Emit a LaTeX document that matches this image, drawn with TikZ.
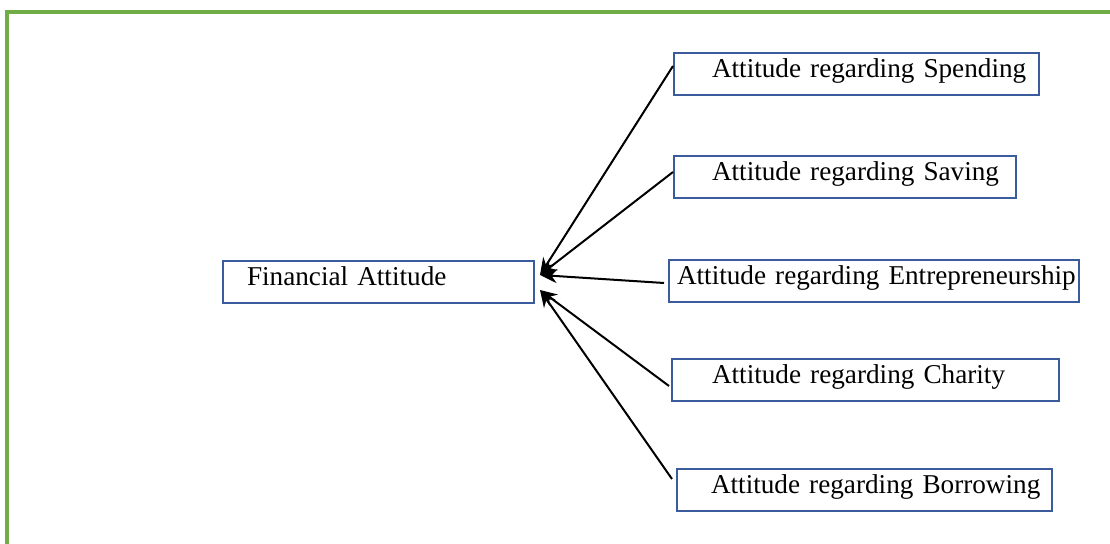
\documentclass[tikz,border=0pt]{standalone}
\usepackage{fontspec}
\setmainfont{Liberation Serif}
\usetikzlibrary{calc,arrows.meta}

\definecolor{framegreen}{HTML}{70AD47}
\definecolor{boxblue}{HTML}{3A5C9C}

\tikzset{
    attbox/.style={draw=boxblue, line width=1pt, inner sep=0pt, minimum height=21pt,
        anchor=north west, align=left, text height=0.68em, text depth=0.4em},
    toattitude/.style={draw=black, line width=1pt, -{Stealth[length=8.5pt,width=7pt]}}
}

\begin{document}
\begin{tikzpicture}[x=0.5pt, y=-0.5pt]
        \useasboundingbox (0,0) rectangle (1110,544);
        \fontsize{13.6}{16}\selectfont

        % frame (only top and left edges are visible)
        \draw[framegreen, line width=1.6pt] (7,544) -- (7,12) -- (1110,12);

        \node[attbox, text width=155.5pt] (fa) at (222,260) {\hspace*{12pt}Financial Attitude};

        \node[attbox, text width=182.5pt] (spend) at (673,52) {\hspace*{19pt}Attitude regarding Spending};
        \node[attbox, text width=171pt] (save) at (673,155) {\hspace*{19pt}Attitude regarding Saving};
        \node[attbox, text width=205pt] (entre) at (668,259) {\hspace*{4pt}Attitude regarding Entrepreneurship};
        \node[attbox, text width=193.5pt] (charity) at (671,358) {\hspace*{20pt}Attitude regarding Charity};
        \node[attbox, text width=187.5pt] (borrow) at (676,468) {\hspace*{17pt}Attitude regarding Borrowing};

        \coordinate (tipup) at ($(fa.east)+(5,-7)$);
        \coordinate (tipdown) at ($(fa.east)+(5,8)$);

        \draw[toattitude] ($(spend.west)+(0,-8)$) -- (tipup);
        \draw[toattitude] ($(save.west)+(0,-5)$) -- (tipup);
        \draw[toattitude] ($(entre.west)+(-4,2)$) -- (tipup);
        \draw[toattitude] ($(charity.west)+(-2,6)$) -- (tipdown);
        \draw[toattitude] ($(borrow.west)+(-4,-11)$) -- (tipdown);
    \end{tikzpicture}
\end{document}
